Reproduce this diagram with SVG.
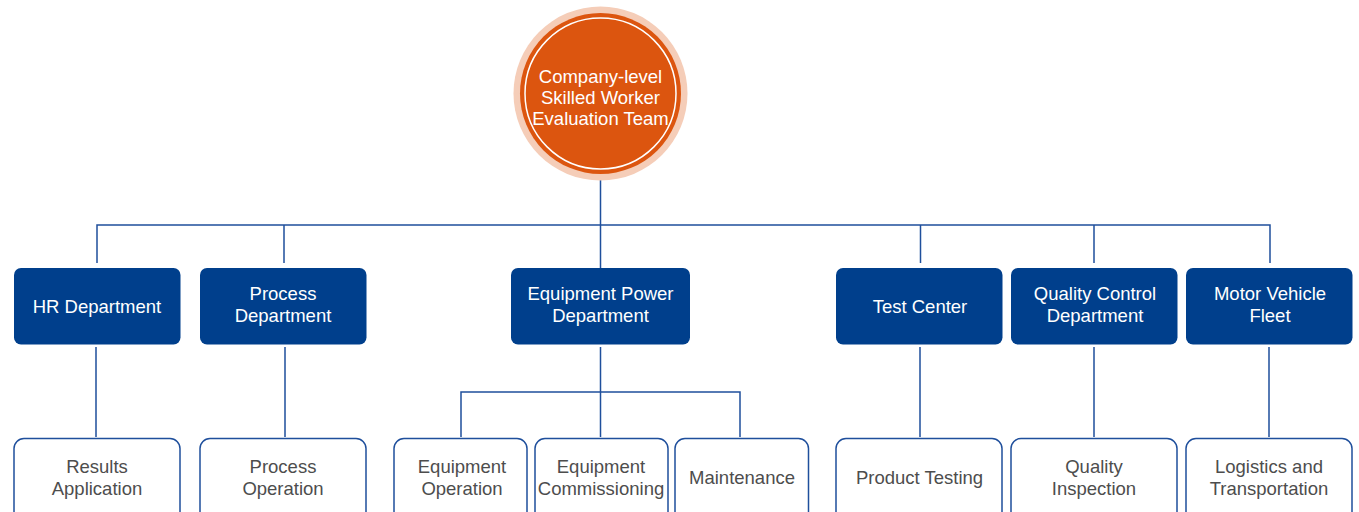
<svg xmlns="http://www.w3.org/2000/svg" width="1359" height="512" viewBox="0 0 1359 512">
<style>
text{font-family:"Liberation Sans",Arial,sans-serif;font-size:18.5px;text-anchor:middle}
.dept rect{fill:#003f8c}
.dept text{fill:#ffffff}
.sub rect{fill:#ffffff;stroke:#1f4f9c;stroke-width:1.5}
.sub text{fill:#4d4d4d}
.conn path{fill:none;stroke:#1f4f9c;stroke-width:1.5}
</style>
<rect width="1359" height="512" fill="#ffffff"/>
<g class="conn">
<path d="M600.5 173V225M97 263V225H1270V263M284 225V263M600.5 225V268M920.5 225V263M1094 225V263"/>
<path d="M96 347V437M285 347V437M600.5 347V437M461 437V392H740V437M920 347V437M1094 347V437M1269 347V437"/>
</g>
<g id="root">
<circle cx="600.5" cy="93.5" r="87" fill="#f5cdb8"/>
<circle cx="600.5" cy="93.5" r="80.5" fill="#dc550f"/>
<circle cx="600.5" cy="93.5" r="75.5" fill="none" stroke="#ffffff" stroke-width="1.5"/>
<text x="600.5" y="82.5" fill="#ffffff">Company-level</text>
<text x="600.5" y="103.5" fill="#ffffff">Skilled Worker</text>
<text x="600.5" y="124.5" fill="#ffffff">Evaluation Team</text>
</g>
<g id="hr" class="dept"><rect x="14" y="268" width="166.5" height="76.5" rx="7"/><text x="97" y="312.5">HR Department</text></g>
<g id="process" class="dept"><rect x="200" y="268" width="166.5" height="76.5" rx="7"/><text x="283" y="300">Process</text><text x="283" y="322">Department</text></g>
<g id="equip" class="dept"><rect x="511" y="268" width="179" height="76.5" rx="7"/><text x="600.5" y="300">Equipment Power</text><text x="600.5" y="322">Department</text></g>
<g id="test" class="dept"><rect x="836" y="268" width="166.5" height="76.5" rx="7"/><text x="920" y="312.5">Test Center</text></g>
<g id="qc" class="dept"><rect x="1011" y="268" width="166.5" height="76.5" rx="7"/><text x="1095" y="300">Quality Control</text><text x="1095" y="322">Department</text></g>
<g id="motor" class="dept"><rect x="1186" y="268" width="166.5" height="76.5" rx="7"/><text x="1270" y="300">Motor Vehicle</text><text x="1270" y="322">Fleet</text></g>
<g id="results" class="sub"><rect x="14" y="438.5" width="166" height="90" rx="10"/><text x="97" y="472.5">Results</text><text x="97" y="494.5">Application</text></g>
<g id="procop" class="sub"><rect x="200" y="438.5" width="166" height="90" rx="10"/><text x="283" y="472.5">Process</text><text x="283" y="494.5">Operation</text></g>
<g id="equipop" class="sub"><rect x="394" y="438.5" width="133" height="90" rx="10"/><text x="462" y="472.5">Equipment</text><text x="462" y="494.5">Operation</text></g>
<g id="equipcomm" class="sub"><rect x="535" y="438.5" width="133" height="90" rx="10"/><text x="601" y="472.5">Equipment</text><text x="601" y="494.5">Commissioning</text></g>
<g id="maint" class="sub"><rect x="675" y="438.5" width="133.5" height="90" rx="10"/><text x="742" y="484">Maintenance</text></g>
<g id="prodtest" class="sub"><rect x="836" y="438.5" width="166" height="90" rx="10"/><text x="919.5" y="484">Product Testing</text></g>
<g id="qi" class="sub"><rect x="1011" y="438.5" width="166" height="90" rx="10"/><text x="1094" y="472.5">Quality</text><text x="1094" y="494.5">Inspection</text></g>
<g id="logi" class="sub"><rect x="1186" y="438.5" width="166" height="90" rx="10"/><text x="1269" y="472.5">Logistics and</text><text x="1269" y="494.5">Transportation</text></g>
</svg>
